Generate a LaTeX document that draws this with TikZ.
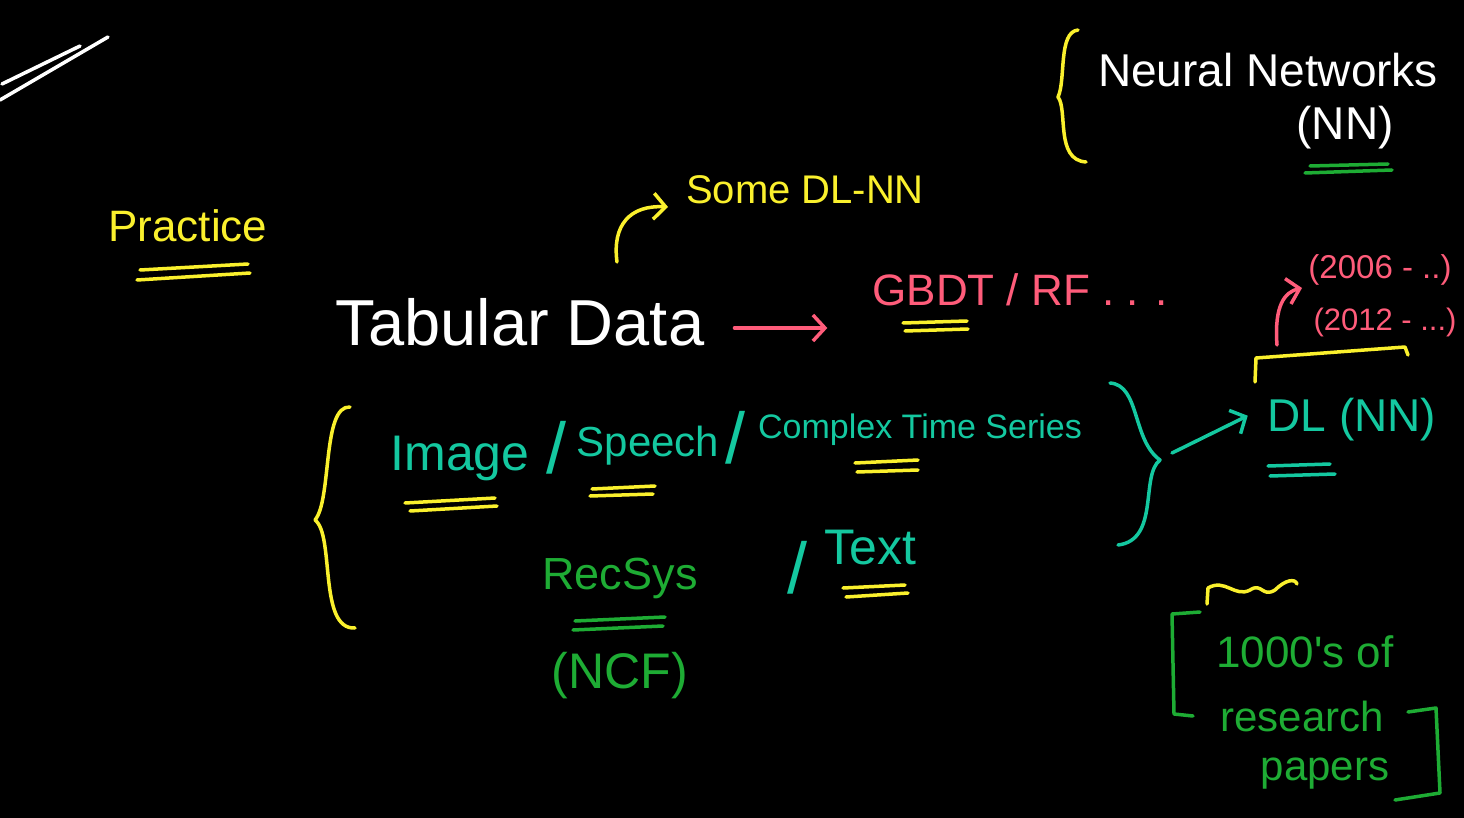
\documentclass[tikz,border=0pt]{standalone}
\usepackage{fontspec}
\setmainfont{Liberation Sans}
\usetikzlibrary{arrows.meta}
\newcommand\hfs[1]{\fontsize{#1}{#1}\selectfont}
\definecolor{hyel}{RGB}{250,240,45}
\definecolor{hpink}{RGB}{255,92,122}
\definecolor{hteal}{RGB}{20,200,160}
\definecolor{hgreen}{RGB}{30,172,52}
\tikzset{
  txt/.style={inner sep=0pt, anchor=center},
  pen/.style={line width=3.5pt, line cap=round, line join=round},
  arr/.style={pen, -{Straight Barb[length=12pt,width=26pt,line width=3.5pt]}}
}
\begin{document}
\begin{tikzpicture}[x=1pt,y=-1pt]
\fill[black] (0,0) rectangle (1464,818);
\useasboundingbox (0,0) rectangle (1464,818);

% top-left strokes
\draw[pen,white] (2,84) -- (80,46);
\draw[pen,white] (0,100) -- (108,37);

% Practice
\node[txt,hyel,font=\hfs{44}] (prac) at (188,226) {Practice};
\draw[pen,hyel] (140,270) -- (248,264);
\draw[pen,hyel] (137,280) -- (250,273);

% Neural Networks
\draw[pen,hyel] (1078,30) .. controls (1058,32) and (1066,80) .. (1058,97)
  .. controls (1068,110) and (1055,160) .. (1086,162);
\node[txt,white,font=\hfs{46}] (nn) at (1268,70) {Neural Networks};
\node[txt,white,font=\hfs{46}] (nnab) at (1345,128) {(NN)};
\draw[pen,hgreen] (1310,166) -- (1388,164);
\draw[pen,hgreen] (1305,173) -- (1392,170);

% Some DL-NN
\node[txt,hyel,font=\hfs{40}] (some) at (805,190) {Some DL-NN};
\coordinate (cs) at (617,262);
\coordinate (ce) at (668,207);
\draw[arr,hyel] (cs) .. controls (612,225) and (630,205) .. (ce);

% Tabular data
\node[txt,white,font=\hfs{65}] (tab) at (520,322) {Tabular Data};
\node[txt,hpink,font=\hfs{44}] (gbdt) at (1020,290) {GBDT / RF . . .};
\draw[arr,hpink,shorten <=30pt,shorten >=45pt] ([yshift=-6pt]tab.east) -- ([yshift=-6pt]tab.east -| gbdt.west);
\draw[pen,hyel] (903,323) -- (967,321);
\draw[pen,hyel] (905,331) -- (968,329);

% years
\node[txt,hpink,font=\hfs{33}] (y06) at (1380,270) {(2006 - ..)};
\node[txt,hpink,font=\hfs{31}] (y12) at (1385,322) {(2012 - ...)};
\coordinate (ys) at (1277,345);
\coordinate (ye) at (1302,288);
\draw[arr,hpink] (ys) .. controls (1274,305) and (1285,292) .. (ye);

% yellow bracket
\draw[pen,hyel] (1255,382) -- (1256,358) -- (1405,347) -- (1408,355);

% big left brace
\draw[pen,hyel] (350,407) .. controls (322,405) and (332,500) .. (315,520)
  .. controls (335,535) and (318,630) .. (355,628);

% data types
\node[txt,hteal,font=\hfs{50}] (img) at (460,458) {Image};
\node[txt,hteal,font=\hfs{72}] (s1) at (556,448) {/};
\node[txt,hteal,font=\hfs{42}] (sp) at (648,446) {Speech};
\node[txt,hteal,font=\hfs{72}] (s2) at (735,438) {/};
\node[txt,hteal,font=\hfs{34}] (cts) at (920,430) {Complex Time Series};
\node[txt,hteal,font=\hfs{72}] (s3) at (797,568) {/};
\node[txt,hteal,font=\hfs{50}] (txt) at (870,548) {Text};

\draw[pen,hyel] (405,503) -- (495,498);
\draw[pen,hyel] (410,511) -- (497,506);
\draw[pen,hyel] (592,489) -- (655,486);
\draw[pen,hyel] (590,496) -- (653,494);
\draw[pen,hyel] (855,463) -- (918,460);
\draw[pen,hyel] (857,472) -- (918,470);
\draw[pen,hyel] (843,588) -- (905,585);
\draw[pen,hyel] (846,597) -- (908,593);

% RecSys
\node[txt,hgreen,font=\hfs{45}] (rec) at (620,578) {RecSys};
\node[txt,hgreen,font=\hfs{50}] (ncf) at (620,676) {(NCF)};
\draw[pen,hgreen] (575,621) -- (665,617);
\draw[pen,hgreen] (573,630) -- (663,626);

% right brace
\draw[pen,hteal] (1110,383) .. controls (1140,385) and (1132,440) .. (1160,460)
  .. controls (1140,475) and (1160,540) .. (1118,545);
\coordinate (bt) at (1172,453);
\node[txt,hteal,font=\hfs{46}] (dl) at (1352,420) {DL (NN)};
\draw[arr,hteal,shorten >=22pt] (bt) -- ([yshift=14pt]dl.west);
\draw[pen,hteal] (1268,466) -- (1330,464);
\draw[pen,hteal] (1270,476) -- (1335,474);

% research papers
\draw[pen,hyel] (1207,604) -- (1208,588) .. controls (1225,578) and (1235,598) .. (1250,590)
  .. controls (1262,582) and (1262,598) .. (1275,590) .. controls (1285,580) and (1295,578) .. (1297,584);
\draw[pen,hgreen] (1200,612) -- (1172,614) -- (1174,714) -- (1193,716);
\draw[pen,hgreen] (1408,712) -- (1436,708) -- (1440,793) -- (1395,800);
\node[txt,hgreen,font=\hfs{44}] (k1) at (1305,652) {1000\textquotesingle s of};
\node[txt,hgreen,font=\hfs{42}] (k2) at (1302,716) {research};
\node[txt,hgreen,font=\hfs{42}] (k3) at (1325,774) {papers};
\end{tikzpicture}
\end{document}
